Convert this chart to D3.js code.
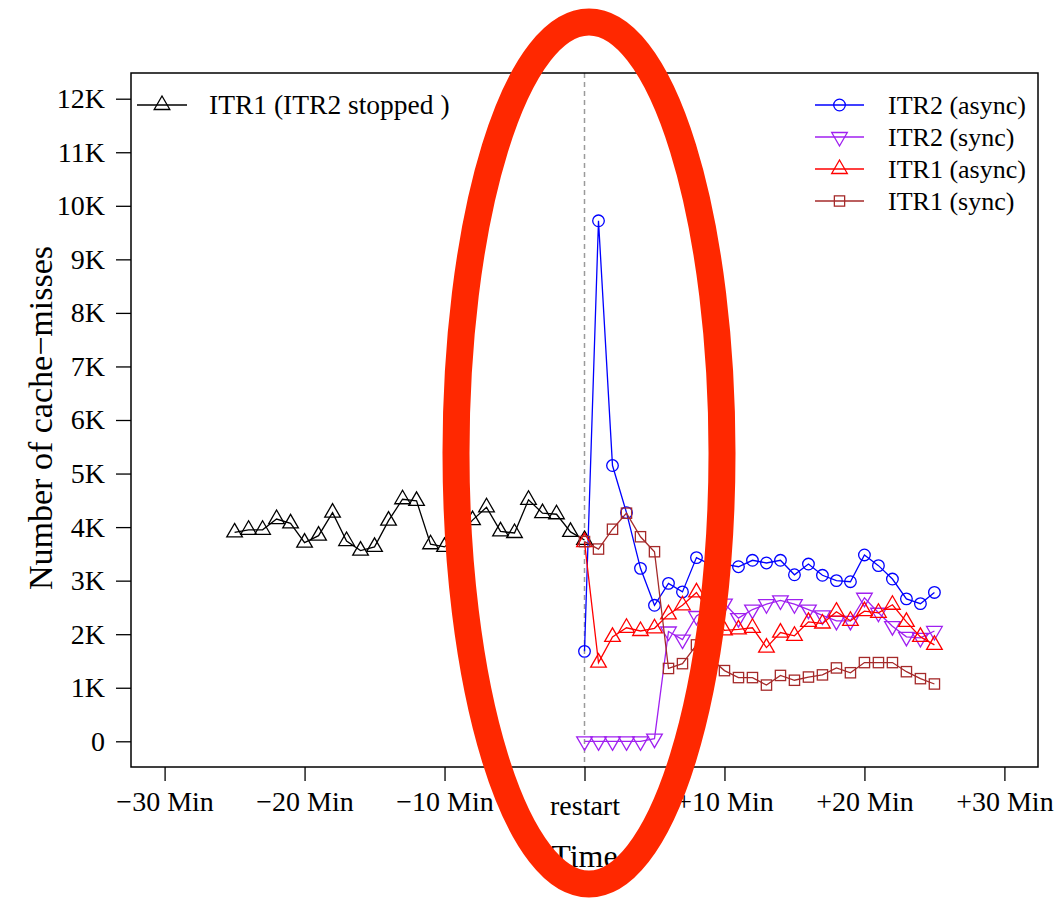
<!DOCTYPE html>
<html>
<head>
<meta charset="utf-8">
<script src="https://cdn.jsdelivr.net/npm/d3@7/dist/d3.min.js"></script>
<style>
  html, body { margin: 0; padding: 0; background: #fff; }
  svg { display: block; font-family: "Liberation Serif", "Times New Roman", serif; }
</style>
</head>
<body>
<svg id="chart" width="1060" height="900"></svg>
<script>
// Minutes relative to the restart of ITR2
const minutesBefore = [-25,-24,-23,-22,-21,-20,-19,-18,-17,-16,-15,-14,-13,-12,-11,-10,-9,-8,-7,-6,-5,-4,-3,-2,-1,0];
const minutesAfter  = [0,1,2,3,4,5,6,7,8,9,10,11,12,13,14,15,16,17,18,19,20,21,22,23,24,25];

// Cache-miss counts
const itr1Stopped = [3900,3950,3950,4150,4070,3710,3840,4270,3740,3560,3630,4120,4520,4490,3680,3630,3850,4130,4370,3920,3890,4510,4260,4240,3910,3760];
const itr2Async   = [1680,9720,5150,4270,3230,2540,2950,2790,3430,3300,3310,3260,3380,3330,3380,3110,3310,3100,3000,2980,3480,3280,3030,2660,2570,2780];
const itr2Sync    = [0,0,0,0,0,50,2050,1900,2340,2500,2570,2300,2460,2560,2630,2560,2460,2350,2250,2250,2680,2400,2150,1950,1930,2060];
const itr1Async   = [3720,1470,1950,2120,2060,2110,2370,2540,2780,2400,2070,2090,2120,1750,2030,1970,2230,2200,2420,2250,2430,2400,2550,2230,1950,1800];
const itr1Sync    = [3730,3590,3960,4260,3820,3540,1360,1450,1800,1550,1320,1190,1190,1050,1230,1140,1200,1240,1370,1280,1470,1470,1470,1300,1170,1070];

// Axis ticks
const xTickValues = [-30,-20,-10,0,10,20,30];
const xTickLabels = ["\u221230 Min","\u221220 Min","\u221210 Min","restart","+10 Min","+20 Min","+30 Min"];
const yTickValues = [0,1000,2000,3000,4000,5000,6000,7000,8000,9000,10000,11000,12000];
const yTickLabels = ["0","1K","2K","3K","4K","5K","6K","7K","8K","9K","10K","11K","12K"];

const legendNames = ["ITR2 (async)","ITR2 (sync)","ITR1 (async)","ITR1 (sync)"];
const stoppedName = "ITR1 (ITR2 stopped )";

const svg = d3.select("#chart");
const plot = { left: 131, right: 1038, top: 73, bottom: 767 };

const x = d3.scaleLinear().domain([-32.4, 32.4]).range([plot.left, plot.right]);
const y = d3.scaleLinear().domain([-480, 12480]).range([plot.bottom, plot.top]);

// marker shapes (hollow), centred on the data point
const R = 5.8;
function marker(g, shape, color, cx, cy) {
  const common = s => s.attr("fill", "none").attr("stroke", color).attr("stroke-width", 1.3);
  if (shape === "circle") {
    common(g.append("circle").attr("cx", cx).attr("cy", cy).attr("r", R));
  } else if (shape === "square") {
    const s = R * 0.886;
    common(g.append("rect").attr("x", cx - s).attr("y", cy - s).attr("width", 2 * s).attr("height", 2 * s));
  } else {
    const r = 1.555 * R, xc = 1.347 * R, yc = 0.778 * R;
    const dir = shape === "up" ? 1 : -1;
    const pts = [[cx, cy - dir * r], [cx + xc, cy + dir * yc], [cx - xc, cy + dir * yc]];
    common(g.append("polygon").attr("points", pts.map(p => p.join(",")).join(" ")));
  }
}

// restart marker
svg.append("line")
  .attr("x1", x(0)).attr("x2", x(0))
  .attr("y1", plot.top).attr("y2", plot.bottom)
  .attr("stroke", "#9a9a9a").attr("stroke-width", 1.5).attr("stroke-dasharray", "5,4");

const series = [
  { xs: minutesBefore, ys: itr1Stopped, color: "#000000", shape: "up" },
  { xs: minutesAfter, ys: itr2Async, color: "#0000ff", shape: "circle" },
  { xs: minutesAfter, ys: itr2Sync, color: "#a020f0", shape: "down" },
  { xs: minutesAfter, ys: itr1Async, color: "#ff0000", shape: "up" },
  { xs: minutesAfter, ys: itr1Sync, color: "#a52a2a", shape: "square" }
];

const line = d3.line().x(d => x(d[0])).y(d => y(d[1]));
series.forEach(s => {
  const g = svg.append("g");
  const pts = s.xs.map((m, i) => [m, s.ys[i]]);
  g.append("path").datum(pts).attr("d", line)
    .attr("fill", "none").attr("stroke", s.color).attr("stroke-width", 1.3);
  pts.forEach(p => marker(g, s.shape, s.color, x(p[0]), y(p[1])));
});

// frame
svg.append("rect")
  .attr("x", plot.left).attr("y", plot.top)
  .attr("width", plot.right - plot.left).attr("height", plot.bottom - plot.top)
  .attr("fill", "none").attr("stroke", "#000").attr("stroke-width", 1.5);

// y axis
const yAxis = d3.axisLeft(y).tickValues(yTickValues)
  .tickFormat((d, i) => yTickLabels[i]).tickSize(15).tickPadding(11);
const yg = svg.append("g").attr("transform", `translate(${plot.left},0)`).call(yAxis);
yg.select(".domain").remove();
yg.selectAll("line").attr("stroke-width", 1.3);
yg.selectAll("text").attr("font-size", 28).attr("font-family", "Liberation Serif").attr("fill", "#000");

// x axis
const xAxis = d3.axisBottom(x).tickValues(xTickValues)
  .tickFormat((d, i) => xTickLabels[i]).tickSize(14).tickPadding(10);
const xg = svg.append("g").attr("transform", `translate(0,${plot.bottom})`).call(xAxis);
xg.select(".domain").remove();
xg.selectAll("line").attr("stroke-width", 1.3);
xg.selectAll("text").attr("font-size", 28).attr("font-family", "Liberation Serif").attr("fill", "#000");
xg.selectAll("text").filter(d => d === 0).attr("dy", "0.85em");

// axis titles
svg.append("text").attr("x", x(0)).attr("y", 867).attr("text-anchor", "middle")
  .attr("font-size", 32).text("Time");
svg.append("text").attr("transform", `translate(52,${(y(0) + y(12000)) / 2 - 2}) rotate(-90)`)
  .attr("text-anchor", "middle").attr("font-size", 34).text("Number of cache\u2212misses");

// legend: before restart
const lg1 = svg.append("g");
lg1.append("line").attr("x1", 137).attr("x2", 187).attr("y1", 105).attr("y2", 105)
  .attr("stroke", "#000").attr("stroke-width", 1.3);
marker(lg1, "up", "#000", 162, 105);
lg1.append("text").attr("x", 209).attr("y", 114).attr("font-size", 27.5).text(stoppedName);

// legend: after restart
const legendRows = [105, 137, 169, 201];
series.slice(1).forEach((s, i) => {
  const g = svg.append("g");
  const ly = legendRows[i];
  g.append("line").attr("x1", 815).attr("x2", 864).attr("y1", ly).attr("y2", ly)
    .attr("stroke", s.color).attr("stroke-width", 1.3);
  marker(g, s.shape, s.color, 839.5, ly);
  g.append("text").attr("x", 888).attr("y", ly + 9).attr("font-size", 26).text(legendNames[i]);
});

// highlight ring around the restart window
svg.append("ellipse")
  .attr("cx", 589).attr("cy", 453).attr("rx", 133).attr("ry", 431)
  .attr("fill", "none").attr("stroke", "#ff2800").attr("stroke-width", 27);
</script>
</body>
</html>
